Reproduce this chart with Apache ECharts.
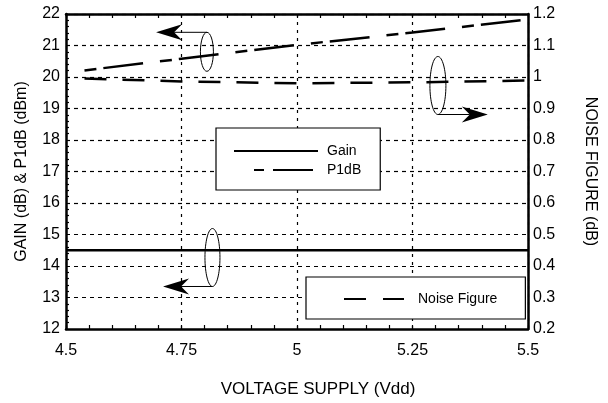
<!DOCTYPE html>
<html>
<head>
<meta charset="utf-8">
<script src="https://cdn.jsdelivr.net/npm/echarts@6/dist/echarts.min.js"></script>
<style>
  html, body { margin: 0; padding: 0; background: #fff; }
  #chart { width: 608px; height: 403px; }
</style>
</head>
<body>
<div id="chart"></div>
<script>
// values
const gainX = [4.5, 4.75, 5, 5.25, 5.5]
const gainY = [14.5, 14.5, 14.5, 14.5, 14.5]
const p1dbX = [4.54, 4.75, 5, 5.25, 5.5]
const p1dbY = [20.21, 20.58, 21.02, 21.41, 21.83]
const nfX = [4.54, 4.75, 5, 5.25, 5.5]
const nfY = [0.995, 0.986, 0.98, 0.983, 0.989]

// callout ellipses (centre in left-axis data units) and where the arrow points
const callouts = [
  { at: [4.805, 20.8], rx: 6.5, ry: 19.5, edge: 'top', tipX: 4.695 },
  { at: [5.305, 19.73], rx: 8, ry: 29, edge: 'bottom', tipX: 5.413 },
  { at: [4.817, 14.27], rx: 7.5, ry: 29, edge: 'bottom', tipX: 4.71 }
]

const font = "'Liberation Sans', Arial, Helvetica, sans-serif"
const zip = (xs, ys) => xs.map((x, i) => [x, ys[i]])

const chart = echarts.init(document.getElementById('chart'))

const axisLine = { show: true, lineStyle: { color: '#000', width: 2.5 } }
const tickStyle = { color: '#000', width: 1.2 }

chart.setOption({
  animation: false,
  backgroundColor: '#fff',
  color: ['#000'],
  textStyle: { fontFamily: font, color: '#000' },
  grid: { left: 66, right: 80, top: 14, bottom: 72, containLabel: false },
  xAxis: [{
    type: 'value',
    position: 'bottom',
    min: 4.5,
    max: 5.5,
    interval: 0.25,
    axisLine,
    axisTick: { show: true, inside: true, length: 4, lineStyle: tickStyle },
    minorTick: { show: true, splitNumber: 5, length: 4, lineStyle: tickStyle },
    axisLabel: { color: '#000', fontSize: 16, fontFamily: font, margin: 14 },
    splitLine: { show: true, lineStyle: { color: '#000', width: 1.2, type: [3, 5] } },
    name: 'VOLTAGE SUPPLY (Vdd)',
    nameLocation: 'middle',
    nameGap: 52,
    nameTextStyle: { color: '#000', fontSize: 17, fontFamily: font, padding: [0, 0, 0, 42] }
  }, {
    type: 'value',
    position: 'top',
    min: 4.5,
    max: 5.5,
    interval: 0.05,
    axisLine,
    axisTick: { show: true, inside: true, length: 4, lineStyle: tickStyle },
    axisLabel: { show: false },
    splitLine: { show: false }
  }],
  yAxis: [{
    type: 'value',
    position: 'left',
    min: 12,
    max: 22,
    interval: 1,
    axisLine,
    axisTick: { show: false, inside: true },
    minorTick: { show: true, splitNumber: 5, length: 3, lineStyle: tickStyle },
    axisLabel: { color: '#000', fontSize: 16, fontFamily: font, margin: 6 },
    splitLine: { show: true, lineStyle: { color: '#000', width: 1.2, type: [4, 4] } },
    name: 'GAIN (dB) & P1dB (dBm)',
    nameLocation: 'middle',
    nameGap: 36,
    nameTextStyle: { color: '#000', fontSize: 16, fontFamily: font }
  }, {
    type: 'value',
    position: 'right',
    min: 0.2,
    max: 1.2,
    interval: 0.1,
    axisLine,
    axisTick: { show: false },
    axisLabel: { color: '#000', fontSize: 16, fontFamily: font, margin: 5 },
    splitLine: { show: false },
    name: 'NOISE FIGURE (dB)',
    nameLocation: 'middle',
    nameRotate: -90,
    nameGap: 54,
    nameTextStyle: { color: '#000', fontSize: 16, fontFamily: font }
  }],
  legend: [{
    data: [
      { name: 'Gain' },
      { name: 'P1dB', lineStyle: { type: [0, 20, 10, 9, 40, 100] } }
    ],
    orient: 'vertical',
    left: 216,
    top: 128,
    itemWidth: 84,
    itemHeight: 14,
    itemGap: 5,
    padding: [16, 19, 13, 17],
    backgroundColor: '#fff',
    borderColor: '#000',
    borderWidth: 1.2,
    selectedMode: false,
    itemStyle: { opacity: 0 },
    textStyle: { color: '#000', fontSize: 14, fontFamily: font, padding: [0, 0, 0, 4] }
  }, {
    data: [{ name: 'Noise Figure', lineStyle: { type: [22, 17, 22, 100] } }],
    left: 306,
    top: 277,
    itemWidth: 60,
    itemHeight: 14,
    padding: [15, 28, 13, 37],
    backgroundColor: '#fff',
    borderColor: '#000',
    borderWidth: 1.2,
    selectedMode: false,
    itemStyle: { opacity: 0 },
    textStyle: { color: '#000', fontSize: 14, fontFamily: font, padding: [0, 0, 0, 9] }
  }],
  series: [{
    name: 'Gain',
    type: 'line',
    xAxisIndex: 0,
    yAxisIndex: 0,
    data: zip(gainX, gainY),
    symbol: 'none',
    itemStyle: { color: '#000' },
    lineStyle: { color: '#000', width: 2.5 }
  }, {
    name: 'P1dB',
    type: 'line',
    xAxisIndex: 0,
    yAxisIndex: 0,
    data: zip(p1dbX, p1dbY),
    symbol: 'none',
    itemStyle: { color: '#000' },
    lineStyle: { color: '#000', width: 2.5, type: [12, 7, 40, 17] }
  }, {
    name: 'Noise Figure',
    type: 'line',
    xAxisIndex: 0,
    yAxisIndex: 1,
    data: zip(nfX, nfY),
    symbol: 'none',
    itemStyle: { color: '#000' },
    lineStyle: { color: '#000', width: 2.5, type: [22, 16] }
  }]
})

// draw the ellipse + arrow callouts
const elements = []
callouts.forEach(c => {
  const [cx, cy] = chart.convertToPixel({ gridIndex: 0 }, c.at)
  const tip = chart.convertToPixel({ gridIndex: 0 }, [c.tipX, c.at[1]])[0]
  const y = c.edge === 'top' ? cy - c.ry : cy + c.ry
  const dir = tip < cx ? 1 : -1
  const back = tip + dir * 26
  const notch = tip + dir * 18
  elements.push({
    type: 'ellipse',
    shape: { cx, cy, rx: c.rx, ry: c.ry },
    style: { fill: 'none', stroke: '#000', lineWidth: 1 },
    z: 10
  })
  elements.push({
    type: 'polyline',
    shape: { points: [[cx, y], [notch, y]] },
    style: { stroke: '#000', lineWidth: 1, fill: 'none' },
    z: 10
  })
  elements.push({
    type: 'polygon',
    shape: { points: [[tip, y], [back, y - 8], [notch, y], [back, y + 8]] },
    style: { fill: '#000', stroke: 'none' },
    z: 10
  })
})
chart.setOption({ graphic: elements })
</script>
</body>
</html>
